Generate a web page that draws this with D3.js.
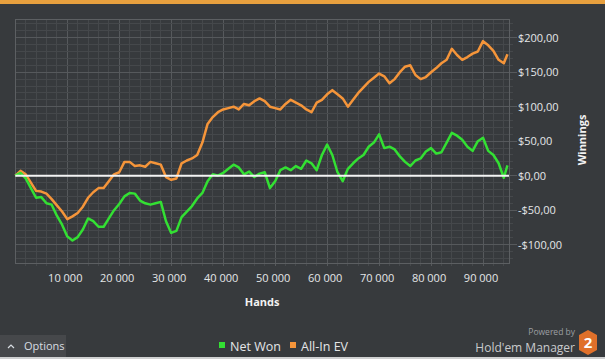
<!DOCTYPE html>
<html>
<head>
<meta charset="utf-8">
<script src="https://cdn.jsdelivr.net/npm/d3@7"></script>
<style>
  html, body { margin: 0; padding: 0; background: #373a3d; overflow: hidden; }
  svg { display: block; }
</style>
</head>
<body>
<div id="stage"></div>
<script>
// hands played (x) and cumulative winnings in $ (y)
const hands = [
  0, 1000, 2000, 3000, 4000, 5000, 6000, 7000, 8000, 9000,
  10000, 11000, 12000, 13000, 14000, 15000, 16000, 17000, 18000, 19000,
  20000, 21000, 22000, 23000, 24000, 25000, 26000, 27000, 28000, 29000,
  30000, 31000, 32000, 33000, 34000, 35000, 36000, 37000, 38000, 39000,
  40000, 41000, 42000, 43000, 44000, 45000, 46000, 47000, 48000, 49000,
  50000, 51000, 52000, 53000, 54000, 55000, 56000, 57000, 58000, 59000,
  60000, 61000, 62000, 63000, 64000, 65000, 66000, 67000, 68000, 69000,
  70000, 71000, 72000, 73000, 74000, 75000, 76000, 77000, 78000, 79000,
  80000, 81000, 82000, 83000, 84000, 85000, 86000, 87000, 88000, 89000,
  90000, 91000, 92000, 93000, 94000, 94700
];
const netWon = [
  0, 4, -4, -18, -32, -31, -40, -42, -58, -71,
  -88, -94, -89, -78, -62, -66, -74, -74, -62, -50,
  -41, -30, -25, -26, -36, -40, -42, -40, -38, -66,
  -83, -80, -60, -52, -44, -33, -25, -8, 2, 0,
  4, 10, 16, 12, 2, 6, -2, 3, 5, -18,
  -8, 8, 12, 8, 14, 10, 22, 18, 8, 30,
  45, 30, 5, -8, 10, 18, 25, 30, 42, 48,
  60, 40, 42, 38, 28, 20, 14, 22, 25, 35,
  40, 32, 34, 48, 62, 58, 52, 42, 36, 50,
  55, 36, 30, 18, -3, 15
];
const allInEV = [
  0, 7, 2, -10, -22, -23, -26, -34, -43, -52,
  -63, -59, -54, -45, -32, -24, -18, -18, -8, 2,
  5, 20, 20, 14, 15, 13, 20, 18, 16, -2,
  -6, -4, 18, 22, 25, 30, 48, 75, 85, 92,
  96, 98, 100, 96, 104, 102, 108, 112, 108, 100,
  98, 96, 104, 110, 106, 102, 96, 92, 106, 110,
  118, 124, 118, 112, 100, 110, 120, 128, 136, 142,
  148, 144, 134, 140, 150, 158, 160, 146, 140, 143,
  150, 156, 163, 168, 184, 175, 168, 172, 177, 180,
  195, 189, 181, 168, 163, 176
];
const xTickValues = [10000, 20000, 30000, 40000, 50000, 60000, 70000, 80000, 90000];
const yTickValues = [-100, -50, 0, 50, 100, 150, 200];
const seriesNames = ['Net Won', 'All-In EV'];

const W = 605, H = 359;
const pL = 15.3, pR = 509, pT = 19.3, pB = 263.3;
const FONT = '"Open Sans", "Noto Sans", sans-serif';
const COL = { green: '#33e033', orange: '#f5953a', text: '#e4e6e8', minor: '#45484b', major: '#56595c' };

const svg = d3.select('#stage').append('svg').attr('width', W).attr('height', H);
svg.append('rect').attr('width', W).attr('height', H).attr('fill', '#373a3d');
svg.append('rect').attr('width', W).attr('height', 4).attr('fill', '#e8a03e');

const x = d3.scaleLinear().domain([0, 95000]).range([pL, pR]);
const y = d3.scaleLinear().domain([-127, 226.7]).range([pB, pT]);

// grid
const grid = svg.append('g').attr('shape-rendering', 'crispEdges');
d3.range(2000, 95000, 2000).forEach(t => {
  grid.append('line').attr('x1', x(t)).attr('x2', x(t)).attr('y1', pT).attr('y2', pB + 3)
    .attr('stroke', t % 10000 === 0 ? COL.major : COL.minor);
});
d3.range(-120, 227, 10).forEach(t => {
  const major = t % 50 === 0;
  grid.append('line').attr('x1', pL).attr('x2', pR + (major ? 8 : 4)).attr('y1', y(t)).attr('y2', y(t))
    .attr('stroke', major ? COL.major : COL.minor);
});
grid.append('rect').attr('x', pL).attr('y', pT).attr('width', pR - pL).attr('height', pB - pT)
  .attr('fill', 'none').attr('stroke', '#5c5f62');

// x labels
xTickValues.forEach(t => {
  svg.append('text').attr('x', x(t) - 2).attr('y', 282).attr('text-anchor', 'middle')
    .attr('font-family', FONT).attr('font-size', 11).attr('fill', COL.text)
    .text(d3.format(',')(t).replace(/,/g, ' '));
});
// y labels
const money = v => (v < 0 ? '-' : '') + '$' + Math.abs(v).toFixed(2).replace('.', ',');
yTickValues.forEach(t => {
  svg.append('text').attr('x', 518).attr('y', y(t)).attr('dy', '0.36em')
    .attr('font-family', FONT).attr('font-size', 11).attr('fill', COL.text).text(money(t));
});

svg.append('text').attr('x', (pL + pR) / 2).attr('y', 306).attr('text-anchor', 'middle')
  .attr('font-family', FONT).attr('font-weight', 700).attr('font-size', 11).attr('fill', '#f2f2f2').text('Hands');
svg.append('text').attr('transform', 'translate(586,140) rotate(-90)').attr('text-anchor', 'middle')
  .attr('font-family', FONT).attr('font-weight', 700).attr('font-size', 11).attr('fill', '#f2f2f2').text('Winnings');

// series
const line = d3.line().x((d, i) => x(hands[i])).y(d => y(d)).curve(d3.curveLinear);
svg.append('path').datum(allInEV).attr('d', line).attr('fill', 'none')
  .attr('stroke', COL.orange).attr('stroke-width', 2.5).attr('stroke-linejoin', 'round');
svg.append('path').datum(netWon).attr('d', line).attr('fill', 'none')
  .attr('stroke', COL.green).attr('stroke-width', 2.5).attr('stroke-linejoin', 'round');
svg.append('line').attr('x1', pL).attr('x2', pR).attr('y1', y(0)).attr('y2', y(0))
  .attr('stroke', '#f4f4f4').attr('stroke-width', 2);

// legend
const legend = [{ name: seriesNames[0], color: COL.green, x: 219 }, { name: seriesNames[1], color: COL.orange, x: 290 }];
legend.forEach(l => {
  svg.append('rect').attr('x', l.x).attr('y', 342).attr('width', 6).attr('height', 6).attr('fill', l.color);
  svg.append('text').attr('x', l.x + 11).attr('y', 350.5).attr('font-family', FONT).attr('font-size', 12.5)
    .attr('fill', COL.text).text(l.name);
});

// options button
svg.append('rect').attr('x', 0).attr('y', 335).attr('width', 66).attr('height', 22).attr('fill', '#46484b');
svg.append('path').attr('d', 'M8,348 L11,345 L14,348').attr('fill', 'none').attr('stroke', '#d8dde2').attr('stroke-width', 1.2);
svg.append('text').attr('x', 24).attr('y', 350).attr('font-family', FONT).attr('font-size', 11)
  .attr('fill', '#d8dde2').text('Options');

// branding
svg.append('text').attr('x', 575).attr('y', 335).attr('text-anchor', 'end').attr('font-family', FONT)
  .attr('font-size', 8.5).attr('fill', '#9c9fa2').text('Powered by');
svg.append('text').attr('x', 575).attr('y', 351.5).attr('text-anchor', 'end').attr('font-family', FONT)
  .attr('font-size', 12).attr('fill', '#c9cbcd').text("Hold'em Manager");
svg.append('path').attr('d', 'M588,330 L597,335 L597,350 L588,355 L579,350 L579,335 Z').attr('fill', '#e0702a');
svg.append('text').attr('x', 588).attr('y', 348).attr('text-anchor', 'middle').attr('font-family', FONT)
  .attr('font-weight', 700).attr('font-size', 15).attr('fill', '#ffffff').text('2');
svg.append('rect').attr('x', 0).attr('y', 357).attr('width', W).attr('height', 2).attr('fill', '#cfd0d1');
</script>
</body>
</html>
